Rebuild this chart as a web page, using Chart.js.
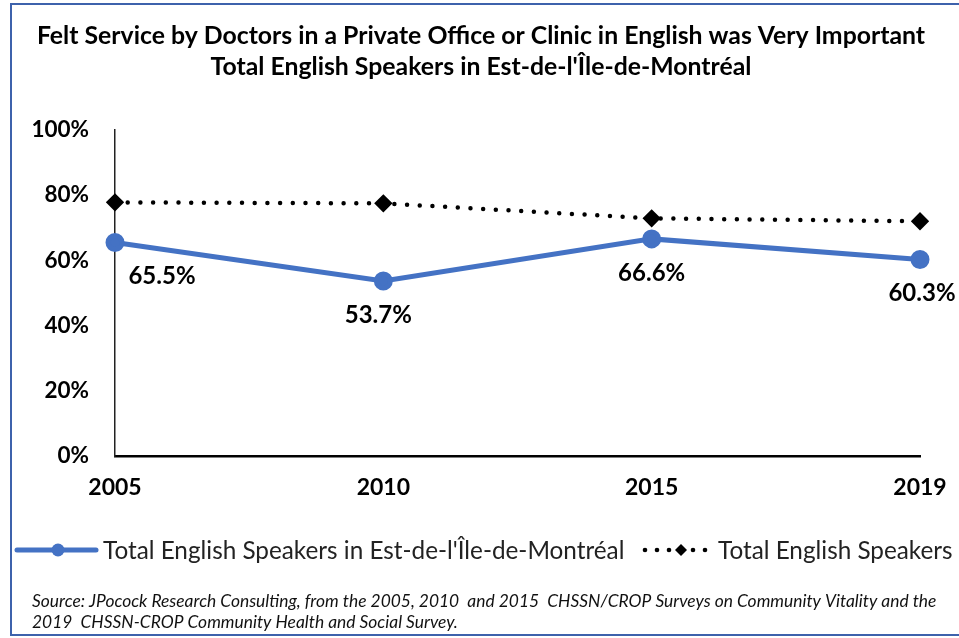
<!DOCTYPE html>
<html>
<head>
<meta charset="utf-8">
<script src="https://cdn.jsdelivr.net/npm/chart.js@4.4.1/dist/chart.umd.min.js"></script>
<style>
  html, body { margin: 0; padding: 0; background: #fff; overflow: hidden; }
  #wrap { position: relative; width: 959px; height: 638px; }
  #frame { position: absolute; left: 10px; top: 3px; width: 1000px; height: 633px; border: 2px solid #3D62AC; box-sizing: border-box; pointer-events: none; }
  canvas { position: absolute; left: 0; top: 0; }
</style>
</head>
<body>
<div id="wrap">
  <canvas id="c" width="959" height="638"></canvas>
  <div id="frame"></div>
</div>
<script>
const FONT = "Lato, 'Open Sans', sans-serif";
const titleLines = [
  "Felt Service by Doctors in a Private Office or Clinic in English was Very Important",
  "Total English Speakers in Est-de-l'Île-de-Montréal"
];
const categories = ["2005", "2010", "2015", "2019"];
const seriesNames = ["Total English Speakers in Est-de-l'Île-de-Montréal", "Total English Speakers"];
const regionValues = [65.5, 53.7, 66.6, 60.3];
const totalValues = [77.8, 77.5, 72.9, 72.0];
const yTicks = [0, 20, 40, 60, 80, 100];
const sourceLines = [
  "Source: JPocock Research Consulting, from the 2005, 2010  and 2015  CHSSN/CROP Surveys on Community Vitality and the",
  "2019  CHSSN-CROP Community Health and Social Survey."
];

const BLUE = "#4472C4";

const decorPlugin = {
  id: 'decor',
  afterDraw(chart, args, opts) {
    const ctx = chart.ctx;
    ctx.save();
    // title
    ctx.fillStyle = "#000";
    ctx.font = "bold 24.8px " + FONT;
    ctx.textAlign = "center";
    ctx.textBaseline = "middle";
    ctx.fillText(titleLines[0], 481, 36);
    ctx.fillText(titleLines[1], 481, 67);

    // data labels for region series
    const meta = chart.getDatasetMeta(0);
    ctx.font = "bold 24px " + FONT;
    ctx.fillStyle = "#000";
    meta.data.forEach((pt, i) => {
      const dx = opts.labelDx[i] || 0;
      ctx.fillText(regionValues[i].toFixed(1) + "%", pt.x + dx, pt.y + 34);
    });

    // legend
    const ly = 550;
    ctx.strokeStyle = BLUE;
    ctx.lineWidth = 5;
    ctx.lineCap = "round";
    ctx.beginPath(); ctx.moveTo(17, ly); ctx.lineTo(96, ly); ctx.stroke();
    ctx.fillStyle = BLUE;
    ctx.beginPath(); ctx.arc(58, ly, 6.5, 0, Math.PI * 2); ctx.fill();
    ctx.fillStyle = "#222";
    ctx.font = "24.3px " + FONT;
    ctx.textAlign = "left";
    ctx.fillText(seriesNames[0], 103, ly + 1);
    const x2 = 645;
    ctx.fillStyle = "#000";
    [0, 12, 24, 48, 60].forEach(d => { ctx.beginPath(); ctx.arc(x2 + d, ly, 2.3, 0, Math.PI*2); ctx.fill(); });
    ctx.beginPath(); ctx.moveTo(x2 + 36, ly - 6); ctx.lineTo(x2 + 42, ly); ctx.lineTo(x2 + 36, ly + 6); ctx.lineTo(x2 + 30, ly); ctx.closePath(); ctx.fill();
    ctx.fillStyle = "#222";
    ctx.fillText(seriesNames[1], 718, ly + 1);

    // source
    ctx.font = "italic 17.4px " + FONT;
    ctx.fillStyle = "#111";
    ctx.fillText(sourceLines[0], 32, 601);
    ctx.fillText(sourceLines[1], 32, 622);
    ctx.restore();
  }
};

new Chart(document.getElementById('c'), {
  type: 'line',
  data: {
    labels: categories,
    datasets: [
      {
        label: seriesNames[0],
        data: regionValues,
        borderColor: BLUE,
        backgroundColor: BLUE,
        borderWidth: 5,
        pointRadius: 7,
        pointHoverRadius: 7,
        pointStyle: 'circle',
        tension: 0,
        order: 1
      },
      {
        label: seriesNames[1],
        data: totalValues,
        borderColor: "#000",
        backgroundColor: "#000",
        borderWidth: 4.5,
        borderDash: [0, 12.7],
        borderCapStyle: 'round',
        pointStyle: 'rectRot',
        pointRadius: 6,
        pointHoverRadius: 6,
        tension: 0,
        order: 2
      }
    ]
  },
  options: {
    responsive: false,
    animation: false,
    devicePixelRatio: 1,
    layout: { padding: { top: 130, left: 0, right: 39, bottom: 0 } },
    plugins: {
      legend: { display: false },
      title: { display: false },
      tooltip: { enabled: false },
      decor: { labelDx: [47, -5, 0, 2] }
    },
    scales: {
      x: {
        type: 'category',
        offset: false,
        grid: { display: false, drawTicks: true, tickLength: 7, color: "#000", lineWidth: 2 },
        border: { display: true, color: "#000", width: 2.5 },
        ticks: { color: "#000", font: { family: FONT, size: 23, weight: 'bold' }, padding: 11, maxRotation: 0, autoSkip: false },
        afterFit(scale) { scale.height = 182; }
      },
      y: {
        min: 0, max: 100,
        afterBuildTicks(scale) { scale.ticks = yTicks.map(v => ({ value: v })); },
        grid: { display: false, drawTicks: false },
        border: { display: true, color: "#222", width: 1.5 },
        ticks: { color: "#000", font: { family: FONT, size: 22.5, weight: 'bold' }, padding: 26, callback: v => v + "%" },
        afterFit(scale) { scale.width = 115; }
      }
    }
  },
  plugins: [decorPlugin]
});
</script>
</body>
</html>
